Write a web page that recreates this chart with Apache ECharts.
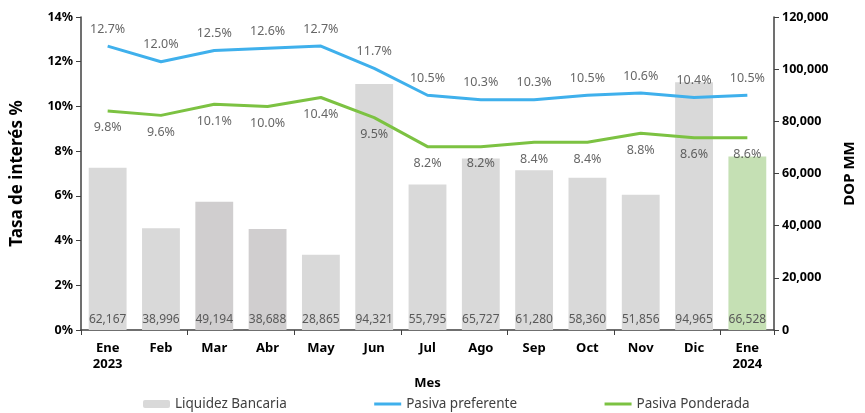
<!DOCTYPE html>
<html>
<head>
<meta charset="utf-8">
<script src="https://cdn.jsdelivr.net/npm/echarts@6/dist/echarts.min.js"></script>
<style>
  html, body { margin: 0; padding: 0; background: #fff; }
  #chart { width: 865px; height: 413px; }
</style>
</head>
<body>
<div id="chart"></div>
<script>
// datos del grafico
let meses = ['Ene\n2023', 'Feb', 'Mar', 'Abr', 'May', 'Jun', 'Jul', 'Ago', 'Sep', 'Oct', 'Nov', 'Dic', 'Ene\n2024'];
let liquidez = [62167, 38996, 49194, 38688, 28865, 94321, 55795, 65727, 61280, 58360, 51856, 94965, 66528];
let pasivaPreferente = [12.7, 12.0, 12.5, 12.6, 12.7, 11.7, 10.5, 10.3, 10.3, 10.5, 10.6, 10.4, 10.5];
let pasivaPonderada = [9.8, 9.6, 10.1, 10.0, 10.4, 9.5, 8.2, 8.2, 8.4, 8.4, 8.8, 8.6, 8.6];

let fontName = '"Noto Sans", sans-serif';
let barColors = ['#d9d9d9', '#d9d9d9', '#d0cecf', '#d0cecf', '#d9d9d9', '#d9d9d9', '#d9d9d9',
    '#d9d9d9', '#d9d9d9', '#d9d9d9', '#d9d9d9', '#d9d9d9', '#c5e0b4'];

let pct = function (p) { return p.value.toFixed(1) + '%'; };

// serie invisible solo para las etiquetas de las lineas
let labelSeries = function (data, pos) {
    return {
        type: 'scatter',
        yAxisIndex: 0,
        data: data,
        symbolSize: 1,
        itemStyle: { color: 'rgba(0,0,0,0)' },
        silent: true,
        z: 5,
        label: { show: true, position: pos, distance: 10, fontSize: 12.5, color: '#404040', formatter: pct }
    };
};

let chart = echarts.init(document.getElementById('chart'));
let option = {
    textStyle: { fontFamily: fontName },
    grid: { left: 81, right: 78, top: 17, bottom: 83 },
    legend: {
        bottom: -3,
        left: 138,
        itemGap: 86,
        itemWidth: 27,
        itemHeight: 8,
        textStyle: { fontSize: 13.5, color: '#404040', fontFamily: fontName },
        data: [
            { name: 'Liquidez Bancaria' },
            { name: 'Pasiva preferente', itemStyle: { opacity: 0 }, lineStyle: { width: 3 } },
            { name: 'Pasiva Ponderada', itemStyle: { opacity: 0 }, lineStyle: { width: 3 } }
        ]
    },
    xAxis: {
        type: 'category',
        data: meses,
        name: 'Mes',
        nameLocation: 'middle',
        nameGap: 47,
        nameTextStyle: { fontWeight: 'bold', fontSize: 13, color: '#000' },
        axisLine: { lineStyle: { color: '#404040', width: 1.5 } },
        axisTick: { show: true, interval: 1, length: 5, lineStyle: { color: '#404040' } },
        axisLabel: { fontWeight: 'bold', fontSize: 13, color: '#000', lineHeight: 16, margin: 10 }
    },
    yAxis: [
        {
            type: 'value',
            min: 0,
            max: 14,
            interval: 2,
            name: 'Tasa de interés %',
            nameLocation: 'middle',
            nameRotate: 90,
            nameGap: 55,
            nameTextStyle: { fontWeight: 'bold', fontSize: 17, color: '#000' },
            axisLine: { show: true, lineStyle: { color: '#404040', width: 1.5 } },
            axisTick: { show: true, length: 5, lineStyle: { color: '#404040' } },
            splitLine: { show: false },
            axisLabel: { formatter: '{value}%', fontWeight: 'bold', fontSize: 12.5, color: '#000' }
        },
        {
            type: 'value',
            min: 0,
            max: 120000,
            interval: 20000,
            name: 'DOP MM',
            nameLocation: 'middle',
            nameRotate: 90,
            nameGap: 68,
            nameTextStyle: { fontWeight: 'bold', fontSize: 15, color: '#000' },
            position: 'right',
            axisLine: { show: true, lineStyle: { color: '#404040', width: 1.5 } },
            axisTick: { show: true, length: 5, lineStyle: { color: '#404040' } },
            splitLine: { show: false },
            axisLabel: {
                fontWeight: 'bold', fontSize: 12.5, color: '#000',
                formatter: function (v) { return v.toLocaleString('en-US'); }
            }
        }
    ],
    series: [
        {
            name: 'Liquidez Bancaria',
            type: 'bar',
            yAxisIndex: 1,
            barWidth: '71%',
            itemStyle: { color: '#d9d9d9' },
            label: {
                show: true,
                position: 'insideBottom',
                distance: 4,
                fontSize: 12,
                color: '#595959',
                formatter: function (p) { return p.value.toLocaleString('en-US'); }
            },
            data: liquidez.map(function (v, i) {
                return { value: v, itemStyle: { color: barColors[i] } };
            })
        },
        {
            name: 'Pasiva preferente',
            type: 'line',
            yAxisIndex: 0,
            data: pasivaPreferente,
            symbol: 'none',
            lineStyle: { color: '#3fb0ec', width: 3 },
            itemStyle: { color: '#3fb0ec' }
        },
        {
            name: 'Pasiva Ponderada',
            type: 'line',
            yAxisIndex: 0,
            data: pasivaPonderada,
            symbol: 'none',
            lineStyle: { color: '#7cc242', width: 3 },
            itemStyle: { color: '#7cc242' }
        },
        labelSeries(pasivaPreferente, 'top'),
        labelSeries(pasivaPonderada, 'bottom')
    ]
};
option && chart.setOption(option);
</script>
</body>
</html>
